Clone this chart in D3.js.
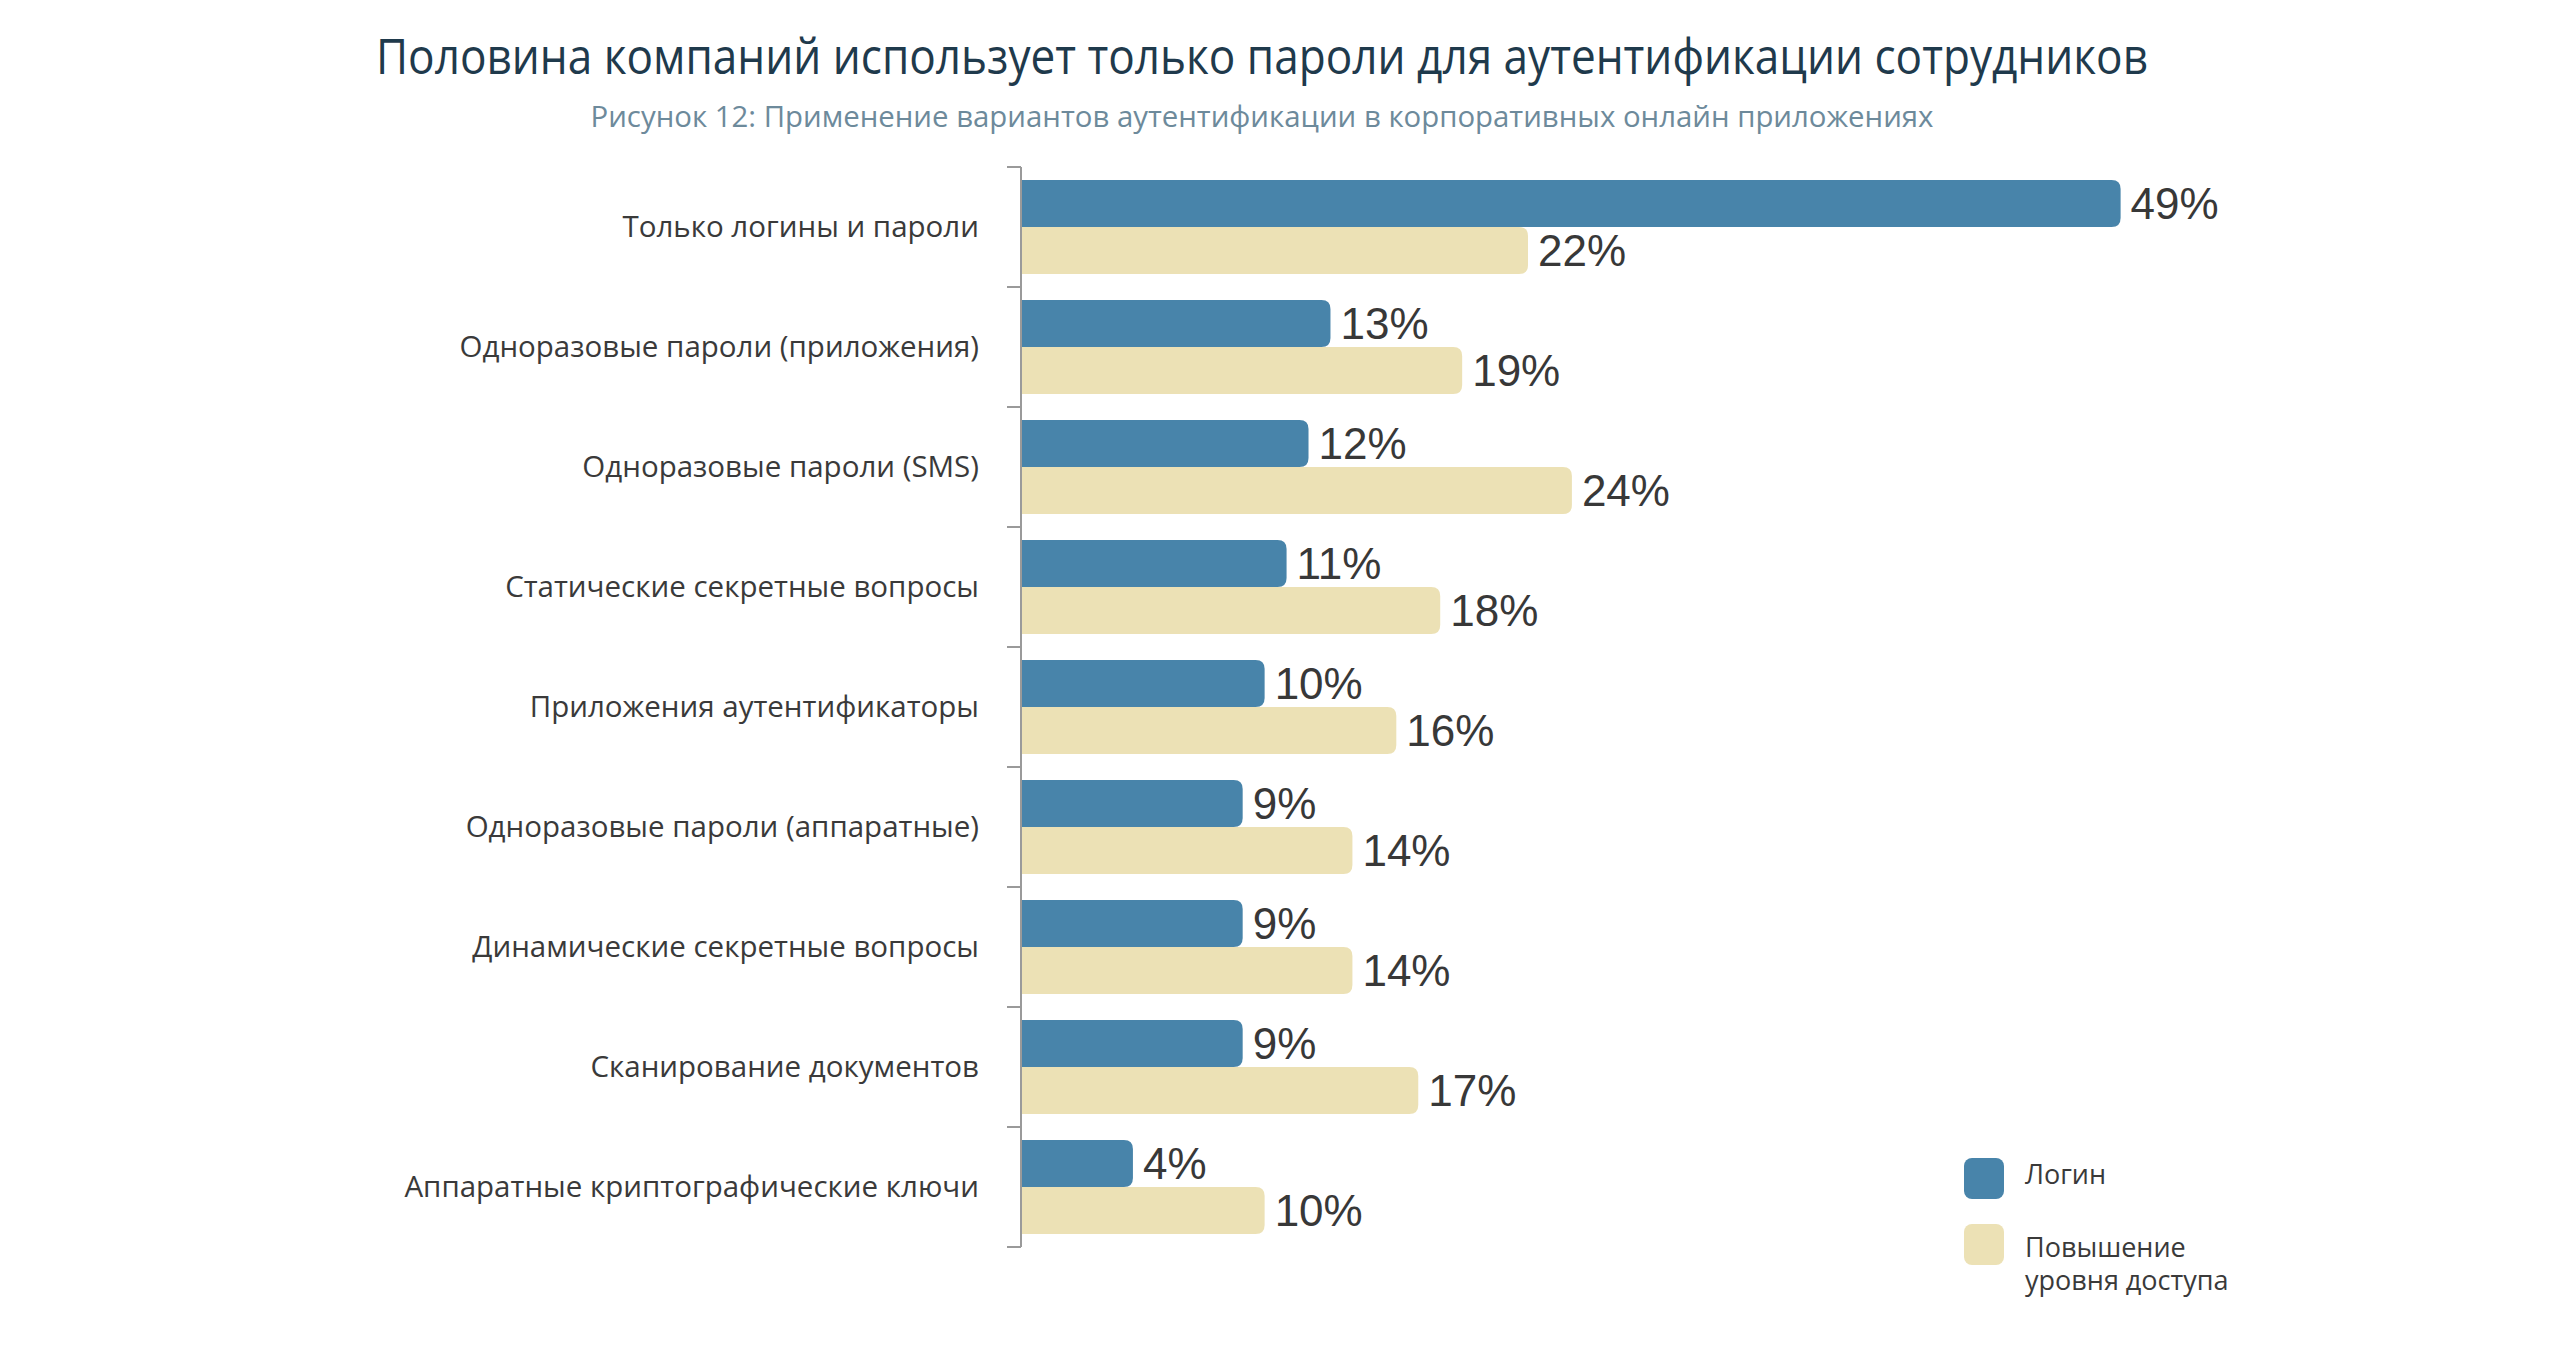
<!DOCTYPE html>
<html><head><meta charset="utf-8">
<script src="https://cdn.jsdelivr.net/npm/d3@7"></script>
<style>body{margin:0;background:#fff}svg{display:block}</style>
</head><body>
<svg id="c" width="2550" height="1356"></svg>
<script>
const titleText = "Половина компаний использует только пароли для аутентификации сотрудников";
const subtitleText = "Рисунок 12: Применение вариантов аутентификации в корпоративных онлайн приложениях";
const categories = [
  "Только логины и пароли",
  "Одноразовые пароли (приложения)",
  "Одноразовые пароли (SMS)",
  "Статические секретные вопросы",
  "Приложения аутентификаторы",
  "Одноразовые пароли (аппаратные)",
  "Динамические секретные вопросы",
  "Сканирование документов",
  "Аппаратные криптографические ключи"
];
const seriesNames = ["Логин", "Повышение уровня доступа"];
const loginValues = [49, 13, 12, 11, 10, 9, 9, 9, 4];
const elevationValues = [22, 19, 24, 18, 16, 14, 14, 17, 10];
const seriesColors = ["#4884aa", "#ece1b5"];

const svg = d3.select("#c");
const axisX = 1021;
const x = d3.scaleLinear().domain([-1.1, 49.2]).range([axisX, 2125]);
const y = d3.scaleBand().domain(categories).range([167, 1247]).padding(0);
const ySub = d3.scaleBand().domain(seriesNames).range([13, 107]).padding(0);

const rows = categories.map((c, i) => ({cat: c, vals: [loginValues[i], elevationValues[i]]}));

function rightRounded(x0, y0, w, h, r) {
  r = Math.min(r, h / 2, w);
  return `M${x0},${y0}H${x0 + w - r}Q${x0 + w},${y0} ${x0 + w},${y0 + r}V${y0 + h - r}Q${x0 + w},${y0 + h} ${x0 + w - r},${y0 + h}H${x0}Z`;
}

// title
svg.append("text").attr("x", 1262).attr("y", 74).attr("text-anchor", "middle")
  .attr("font-family", "'Open Sans', sans-serif").attr("font-size", 50)
  .attr("fill", "#1f3a4c").attr("textLength", 1772).attr("lengthAdjust", "spacingAndGlyphs")
  .text(titleText);
svg.append("text").attr("x", 1262).attr("y", 127).attr("text-anchor", "middle")
  .attr("font-family", "'Open Sans', sans-serif").attr("font-size", 30)
  .attr("fill", "#6d8a9b").attr("textLength", 1343).attr("lengthAdjust", "spacingAndGlyphs")
  .text(subtitleText);

// bars
const g = svg.append("g");
rows.forEach(r => {
  r.vals.forEach((v, j) => {
    const y0 = y(r.cat) + ySub(seriesNames[j]);
    const h = ySub.bandwidth();
    g.append("path")
      .attr("d", rightRounded(axisX, y0, x(v) - axisX, h, 9))
      .attr("fill", seriesColors[j]);
    g.append("text")
      .attr("x", x(v) + 10).attr("y", y0 + h / 2).attr("dy", "0.36em")
      .attr("font-family", "'Liberation Sans', Arial, sans-serif").attr("font-size", 44)
      .attr("fill", "#383838").text(v + "%");
  });
});

// axis
const yAxis = d3.axisLeft(y).tickSize(0).tickPadding(42);
const ag = svg.append("g").attr("transform", `translate(${axisX},0)`).call(yAxis);
ag.select(".domain").remove();
ag.selectAll("text").attr("font-family", "'Open Sans', sans-serif").attr("font-size", 29.5)
  .attr("fill", "#3a3a3a").attr("dy", "0.33em");
svg.append("line").attr("x1", axisX).attr("x2", axisX).attr("y1", 167).attr("y2", 1247)
  .attr("stroke", "#9a9a9a").attr("stroke-width", 2);
const bounds = categories.map(c => y(c)).concat([y.range()[1]]);
svg.selectAll(".tk").data(bounds).enter().append("line")
  .attr("x1", axisX - 14).attr("x2", axisX).attr("y1", d => d).attr("y2", d => d)
  .attr("stroke", "#9a9a9a").attr("stroke-width", 2);

// legend
const lg = svg.append("g");
const legendRows = [{name: "Логин", lines: ["Логин"], y: 1158}, {name: "Повышение уровня доступа", lines: ["Повышение", "уровня доступа"], y: 1224}];
legendRows.forEach((d, i) => {
  lg.append("rect").attr("x", 1964).attr("y", d.y).attr("width", 40).attr("height", 41)
    .attr("rx", 8).attr("fill", seriesColors[i]);
  d.lines.forEach((t, k) => {
    lg.append("text").attr("x", 2025).attr("y", (i === 0 ? 1184 : 1257) + k * 33)
      .attr("font-family", "'Open Sans', sans-serif").attr("font-size", 27)
      .attr("fill", "#3a3a3a").text(t);
  });
});
</script>
</body></html>
